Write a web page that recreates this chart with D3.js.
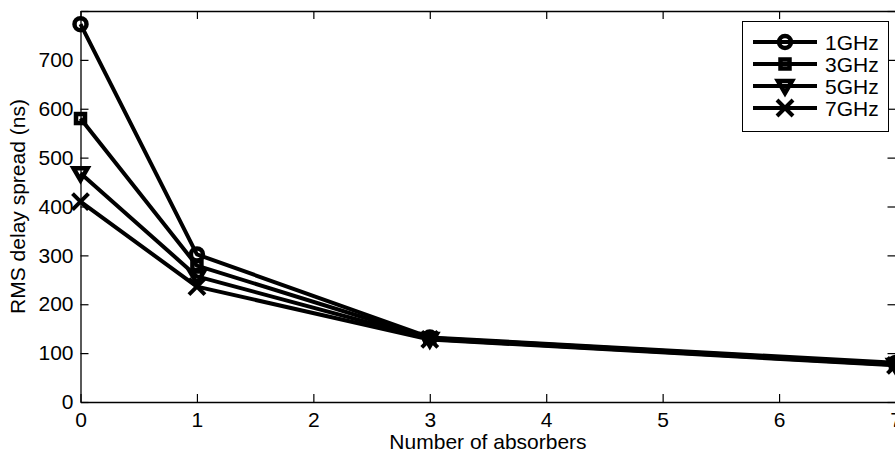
<!DOCTYPE html>
<html>
<head>
<meta charset="utf-8">
<script src="https://cdn.jsdelivr.net/npm/d3@7"></script>
<style>
  body { margin: 0; background: #fff; }
  svg { display: block; font-family: "Liberation Sans", Arial, sans-serif; }
</style>
</head>
<body>
<svg id="chart" width="895" height="455"></svg>
<script>
// data
const absorbers = [0, 1, 3, 7];
const seriesNames = ["1GHz", "3GHz", "5GHz", "7GHz"];
const markers = ["circle", "square", "triangle", "cross"];
const rms1 = [773, 302, 132, 80];
const rms3 = [580, 279, 131, 78];
const rms5 = [468, 257, 129, 76];
const rms7 = [410, 236, 128, 75];
const xTicks = [0, 1, 2, 3, 4, 5, 6, 7];
const yTicks = [0, 100, 200, 300, 400, 500, 600, 700, 800];
const yTickLabels = ["0", "100", "200", "300", "400", "500", "600", "700", ""];

const allSeries = [rms1, rms3, rms5, rms7];

const svg = d3.select("#chart");
const plotLeft = 80.5, plotRight = 895.5, plotTop = 11, plotBottom = 402;
const fs = 21;

const x = d3.scaleLinear().domain([0, 7]).range([plotLeft, plotRight]);
const y = d3.scaleLinear().domain([0, 800]).range([plotBottom, plotTop]);

// axes box (matlab style, ticks inside on all four sides)
const tickLen = 8;
const axG = svg.append("g");

axG.append("g")
  .attr("transform", "translate(0," + plotBottom + ")")
  .call(d3.axisBottom(x).tickValues(xTicks).tickFormat(d3.format("d")).tickSizeInner(-tickLen).tickSizeOuter(0).tickPadding(10));

axG.append("g")
  .attr("transform", "translate(" + plotLeft + ",0)")
  .call(d3.axisLeft(y).tickValues(yTicks).tickFormat((d, i) => yTickLabels[i]).tickSizeInner(-tickLen).tickSizeOuter(0).tickPadding(7));

axG.append("g")
  .attr("transform", "translate(0," + plotTop + ")")
  .call(d3.axisTop(x).tickValues(xTicks).tickSizeInner(-tickLen).tickSizeOuter(0).tickFormat(""));

axG.append("g")
  .attr("transform", "translate(" + plotRight + ",0)")
  .call(d3.axisRight(y).tickValues(yTicks).tickSizeInner(-tickLen).tickSizeOuter(0).tickFormat(""));

axG.selectAll("g").attr("font-size", fs).attr("font-family", "Liberation Sans, Arial, sans-serif");
svg.selectAll(".domain").attr("stroke", "#000").attr("stroke-width", 1.3);
svg.selectAll(".tick line").attr("stroke", "#000").attr("stroke-width", 1.2);
svg.selectAll(".tick text").attr("fill", "#000");

// axis titles
svg.append("text")
  .attr("x", (plotLeft + plotRight) / 2)
  .attr("y", 449)
  .attr("text-anchor", "middle")
  .attr("font-size", fs)
  .text("Number of absorbers");

svg.append("text")
  .attr("transform", "translate(25," + ((plotTop + plotBottom) / 2) + ") rotate(-90)")
  .attr("text-anchor", "middle")
  .attr("font-size", fs)
  .text("RMS delay spread (ns)");

// marker drawing - thick strokes so they look nearly solid like the matlab plot
function drawMarker(g, type, cx, cy) {
  if (type === "circle") {
    g.append("circle").attr("cx", cx).attr("cy", cy).attr("r", 6)
      .attr("fill", "none").attr("stroke", "#000").attr("stroke-width", 4.5);
  } else if (type === "square") {
    g.append("rect").attr("x", cx - 4.5).attr("y", cy - 4.5).attr("width", 9).attr("height", 9)
      .attr("fill", "none").attr("stroke", "#000").attr("stroke-width", 4.5);
  } else if (type === "triangle") {
    const s = 7;
    g.append("path").attr("d", `M${cx - s},${cy - s * 0.7}L${cx + s},${cy - s * 0.7}L${cx},${cy + s}Z`)
      .attr("fill", "none").attr("stroke", "#000").attr("stroke-width", 4.5).attr("stroke-linejoin", "miter");
  } else {
    const s = 8;
    g.append("path").attr("d", `M${cx - s},${cy - s}L${cx + s},${cy + s}M${cx - s},${cy + s}L${cx + s},${cy - s}`)
      .attr("fill", "none").attr("stroke", "#000").attr("stroke-width", 4);
  }
}

const line = d3.line()
  .x((d, i) => x(absorbers[i]))
  .y(d => y(d));

const plotG = svg.append("g");
allSeries.forEach((vals, k) => {
  plotG.append("path")
    .attr("d", line(vals))
    .attr("fill", "none")
    .attr("stroke", "#000")
    .attr("stroke-width", 4)
    .attr("stroke-linejoin", "round");
  const mg = plotG.append("g");
  vals.forEach((v, i) => drawMarker(mg, markers[k], x(absorbers[i]), y(v)));
});

// legend
const lg = svg.append("g");
lg.append("rect")
  .attr("x", 742.5).attr("y", 21.5).attr("width", 146).attr("height", 110)
  .attr("fill", "#fff").attr("stroke", "#000").attr("stroke-width", 1);

seriesNames.forEach((name, k) => {
  const ry = 42 + k * 22;
  lg.append("line")
    .attr("x1", 753).attr("x2", 817).attr("y1", ry).attr("y2", ry)
    .attr("stroke", "#000").attr("stroke-width", 4);
  drawMarker(lg, markers[k], 785, ry);
  lg.append("text")
    .attr("x", 825).attr("y", ry + 7.5)
    .attr("font-size", fs)
    .text(name);
});
</script>
</body>
</html>
